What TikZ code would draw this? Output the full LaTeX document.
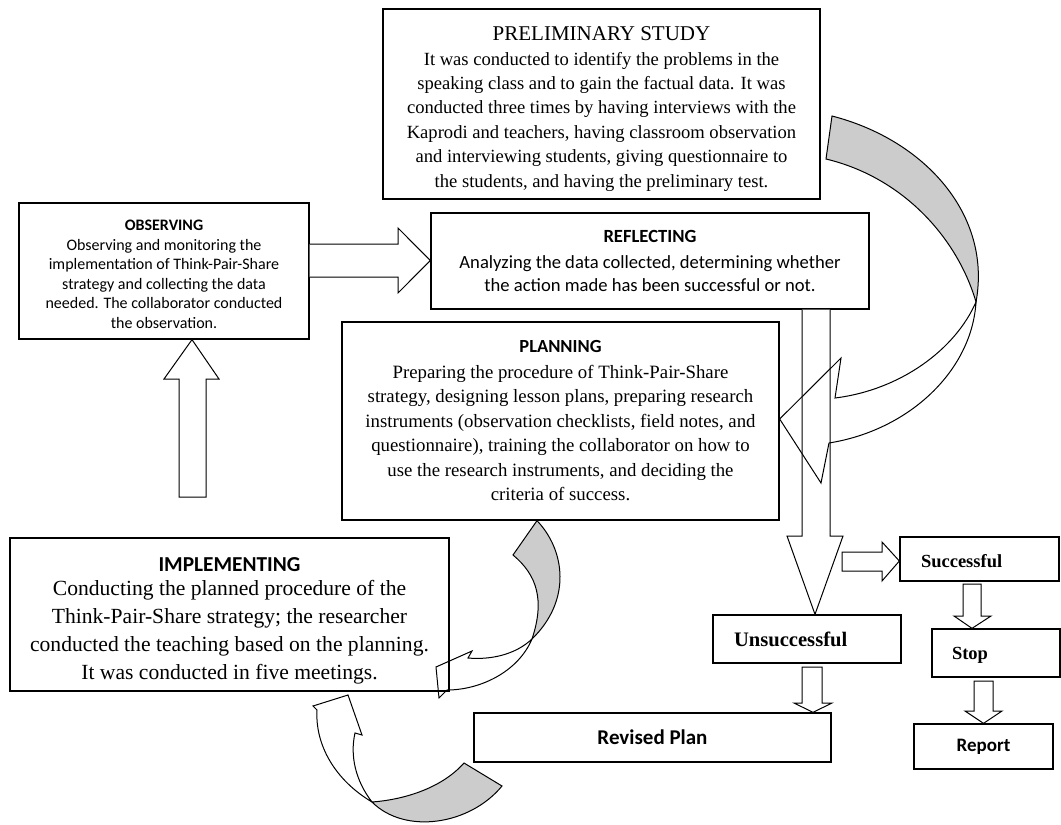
\documentclass[tikz,border=0pt]{standalone}
\usepackage{fontspec}
\setmainfont{Liberation Serif}
\newfontfamily\calibri{Carlito}
\tikzset{box/.style={draw, line width=1.3pt, align=center, inner sep=0pt},
blockarrow/.style={draw, line width=1pt, fill=white},
twistback/.style={draw, line width=1pt, fill=gray!40},
twistfront/.style={draw, line width=1pt}}

\begin{document}
\begin{tikzpicture}[x=1pt, y=-1pt]
\useasboundingbox (0,0) rectangle (1061,825);
\node[box, minimum width=437pt, minimum height=190pt, font=\fontsize{18.6}{24.4}\selectfont] (prelim) at (601.5,104)
{\rule{0pt}{24pt}{\fontsize{21}{25}\selectfont PRELIMINARY STUDY}\\
It was conducted to identify the problems in the\\
speaking class and to gain the factual data. It was\\
conducted three times by having interviews with the\\
Kaprodi and teachers, having classroom observation\\
and interviewing students, giving questionnaire to\\
the students, and having the preliminary test.};
\node[box, minimum width=290pt, minimum height=136pt, font=\calibri\fontsize{16}{19.5}\selectfont] (obs) at (164,271)
{\rule{0pt}{17pt}\textbf{OBSERVING}\\
Observing and monitoring the\\
implementation of Think-Pair-Share\\
strategy and collecting the data\\
needed. The collaborator conducted\\
the observation.};
\node[box, minimum width=438pt, minimum height=96pt, font=\calibri\fontsize{18.6}{23.5}\selectfont] (refl) at (650,261)
{\textbf{REFLECTING}\\[2pt]
Analyzing the data collected, determining whether\\
the action made has been successful or not.};
\node[box, minimum width=437pt, minimum height=198pt, font=\fontsize{18.8}{24.5}\selectfont] (plan) at (560.5,421)
{{\calibri\bfseries\fontsize{18.5}{24.5}\selectfont PLANNING}\\[1pt]
Preparing the procedure of Think-Pair-Share\\
strategy, designing lesson plans, preparing research\\
instruments (observation checklists, field notes, and\\
questionnaire), training the collaborator on how to\\
use the research instruments, and deciding the\\
criteria of success.};
\node[box, minimum width=439pt, minimum height=153pt, font=\fontsize{21.6}{28}\selectfont] (impl) at (229.5,614.5)
{\rule{0pt}{27pt}{\calibri\bfseries\fontsize{21.3}{28}\selectfont IMPLEMENTING}\\[-4pt]
Conducting the planned procedure of the\\
Think-Pair-Share strategy; the researcher\\
conducted the teaching based on the planning.\\
It was conducted in five meetings.};
\node[box, minimum height=48pt, text width=146pt, inner xsep=21pt, align=left, font=\bfseries\fontsize{20.6}{24}\selectfont] (unsucc) at (807,639) {Unsuccessful};
\node[box, minimum height=44pt, text width=117pt, inner xsep=21pt, align=left, font=\bfseries\fontsize{18.5}{22}\selectfont] (succ) at (979.5,559) {\rule{0pt}{17pt}Successful};
\node[box, minimum height=48pt, text width=88pt, inner xsep=20pt, align=left, font=\bfseries\fontsize{18.5}{22}\selectfont] (stop) at (996,653) {\rule{0pt}{17pt}Stop};
\node[box, minimum width=139pt, minimum height=45pt, font=\calibri\bfseries\fontsize{19}{22}\selectfont] (report) at (983.5,746.5) {Report};
\node[box, minimum width=357pt, minimum height=49pt, font=\calibri\bfseries\fontsize{21}{24}\selectfont] (revised) at (652.5,737.5) {Revised Plan};

\draw[blockarrow] (obs.east |- 0,244) -- (398,244) -- (398,228) -- (refl.west |- 0,260.5) -- (398,293) -- (398,277) -- (obs.east |- 0,277);
\draw[blockarrow] (179,497) -- (179,379) -- (164,379) -- (192,0 |- obs.south) -- (219,379) -- (206,379) -- (206,497) -- cycle;
\draw[blockarrow] (802,0 |- refl.south) -- (802,536) -- (787,536) -- (815,0 |- unsucc.north) -- (843,536) -- (830,536) -- (830,0 |- refl.south);
\draw[blockarrow] (842,552) -- (882,552) -- (882,542) -- (succ.west |- 0,561) -- (882,581) -- (882,571) -- (842,571) -- cycle;
\draw[blockarrow] (963,584) -- (963,616) -- (954,616) -- (972,0 |- stop.north) -- (991,616) -- (981,616) -- (981,584) -- cycle;
\draw[blockarrow] (974,681) -- (974,711) -- (965,711) -- (983.5,0 |- report.north) -- (1002,711) -- (993,711) -- (993,681) -- cycle;
\draw[blockarrow] (802,667) -- (802,703) -- (794,703) -- (813,0 |- revised.north) -- (832,703) -- (822,703) -- (822,667) -- cycle;

\coordinate (tA) at (976,302);
\draw[twistback] (832,116) .. controls (925,140) and (992,215) .. (tA) .. controls (958,240) and (905,178) .. (826,159) -- cycle;
\draw[twistfront] (829,443) .. controls (910,430) and (972,370) .. (tA) .. controls (955,350) and (900,390) .. (835,398) -- (841,358) -- (plan.east |- 0,419) -- (821,483) -- cycle;

\coordinate (tB) at (532,639);
\draw[twistback] (537,0 |- plan.south) .. controls (565,550) and (572,600) .. (tB) .. controls (545,600) and (537,575) .. (513,555) -- cycle;
\draw[twistfront] (447,690) .. controls (480,690) and (518,672) .. (tB) .. controls (515,655) and (490,660) .. (468,658) -- (472,651) -- (436,667) -- (439,698) -- cycle;

\coordinate (tC) at (372,802);
\draw[twistback] (502,786) .. controls (470,825) and (405,835) .. (tC) .. controls (400,800) and (440,790) .. (464,763) -- cycle;
\draw[twistfront] (355,733) .. controls (350,755) and (355,780) .. (tC) .. controls (335,780) and (315,745) .. (317,710) -- (313,706) -- (348,695) -- (362,735) -- cycle;
\end{tikzpicture}
\end{document}
